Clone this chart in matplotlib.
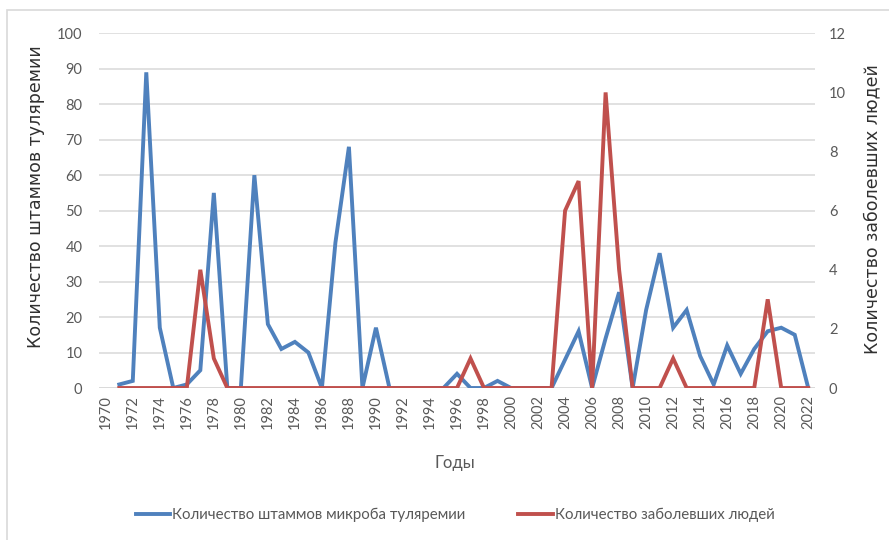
import matplotlib
matplotlib.use("Agg")
import matplotlib.pyplot as plt
from matplotlib.patches import Rectangle

years = list(range(1971, 2023))
strains = [1, 2, 89, 17, 0, 1, 5, 55, 0, 0,
           60, 18, 11, 13, 10, 0, 41, 68, 0, 17,
           0, 0, 0, 0, 0, 4, 0, 0, 2, 0,
           0, 0, 0, 8, 16, 0, 14, 27, 0, 22,
           38, 17, 22, 9, 1, 12, 4, 11, 16, 17,
           15, 0]
people = [0, 0, 0, 0, 0, 0, 4, 1, 0, 0,
          0, 0, 0, 0, 0, 0, 0, 0, 0, 0,
          0, 0, 0, 0, 0, 0, 1, 0, 0, 0,
          0, 0, 0, 6, 7, 0, 10, 4, 0, 0,
          0, 1, 0, 0, 0, 0, 0, 0, 3, 0,
          0, 0]
tick_years = list(range(1970, 2023, 2))

label_strains = "Количество штаммов микроба туляремии"
label_people = "Количество заболевших людей"
ylabel_left = "Количество штаммов туляремии"
ylabel_right = "Количество заболевших людей"
xlabel = "Годы"

BLUE = "#4F81BD"
RED = "#C0504D"
GRID = "#D9D9D9"
TICK = "#595959"

W, H = 889, 540
fig = plt.figure(figsize=(W / 100, H / 100), dpi=100)
fig.patches.append(Rectangle((7 / W, -0.1), 1.2, (H - 10) / H + 0.1,
                             transform=fig.transFigure, fill=False,
                             edgecolor=GRID, linewidth=1.2))

ax = fig.add_axes([99 / W, 1 - 388 / H, (815 - 99) / W, (388 - 33.3) / H])
ax2 = ax.twinx()

l1, = ax.plot(years, strains, color=BLUE, linewidth=2.8, solid_joinstyle="miter", zorder=3)
l2, = ax2.plot(years, people, color=RED, linewidth=2.8, solid_joinstyle="miter", zorder=3)

ax.set_xlim(1969.5, 2022.5)
ax.set_ylim(0, 100)
ax2.set_ylim(0, 12)
ax.set_yticks(range(0, 101, 10))
ax2.set_yticks(range(0, 13, 2))
ax.set_xticks(tick_years)
ax.set_xticklabels([str(y) for y in tick_years], rotation=90, fontfamily="Lato",
                   fontsize=10.5, color=TICK)
for a in (ax, ax2):
    for s in a.spines.values():
        s.set_visible(False)
    a.tick_params(axis="both", length=0, labelcolor=TICK, labelsize=10.5)
    for lab in a.get_yticklabels():
        lab.set_fontfamily("Lato")
ax.tick_params(axis="y", pad=12)
ax2.tick_params(axis="y", pad=10)
ax.tick_params(axis="x", pad=5)
ax.grid(axis="y", color=GRID, linewidth=1.1, zorder=0)
ax.set_axisbelow(True)
ax.axhline(0, color=GRID, linewidth=1.1, zorder=1)

ax.set_ylabel(ylabel_left, fontfamily="DejaVu Sans", fontsize=12.5, color="#303030")
ax2.set_ylabel(ylabel_right, fontfamily="DejaVu Sans", fontsize=12.5, color="#303030")
ax.yaxis.set_label_coords(-54 / (815 - 99), 0.54)
ax2.yaxis.set_label_coords(1 + 48 / (815 - 99), 0.505)
ax.set_xlabel(xlabel, fontfamily="Lato", fontsize=12, color=TICK)
ax.xaxis.set_label_coords((455 - 99) / (815 - 99), -(455 - 388) / (388 - 33.3))

fig.legend([l1, l2], [label_strains, label_people], loc="center",
           bbox_to_anchor=(455 / W, 1 - 515 / H), ncol=2, frameon=False,
           prop={"family": "Lato", "size": 10.8}, labelcolor=TICK,
           handlelength=2.3, handletextpad=0.15, columnspacing=3.5)

fig.savefig("out.png", dpi=100)
